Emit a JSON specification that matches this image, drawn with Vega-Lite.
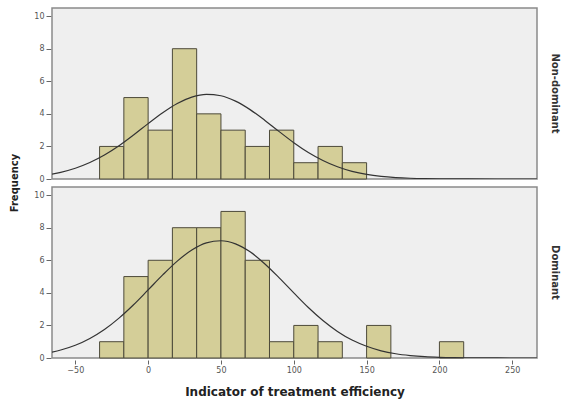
{
  "$schema": "https://vega.github.io/schema/vega-lite/v6.json",
  "background": "white",
  "padding": {"left": 9, "top": 7, "right": 2, "bottom": 2},
  "config": {
    "view": {"fill": "#EFEFEF", "stroke": "#8A8A8A", "strokeWidth": 1.5},
    "font": "DejaVu Sans",
    "axis": {"labelFont": "DejaVu Sans", "labelFontSize": 8, "labelColor": "#555", "tickColor": "#666", "domain": false, "grid": false, "titleFont": "DejaVu Sans", "titleColor": "#222"},
    "axisY": {"labelOverlap": false},
    "header": {"labelFont": "DejaVu Sans", "titleFont": "DejaVu Sans"}
  },
  "data": {
    "values": [
      {"g": "Non-dominant", "kind": "bar", "x0": -33.33, "x1": -16.67, "n": 2},
      {"g": "Non-dominant", "kind": "bar", "x0": -16.67, "x1": 0, "n": 5},
      {"g": "Non-dominant", "kind": "bar", "x0": 0, "x1": 16.67, "n": 3},
      {"g": "Non-dominant", "kind": "bar", "x0": 16.67, "x1": 33.33, "n": 8},
      {"g": "Non-dominant", "kind": "bar", "x0": 33.33, "x1": 50, "n": 4},
      {"g": "Non-dominant", "kind": "bar", "x0": 50, "x1": 66.67, "n": 3},
      {"g": "Non-dominant", "kind": "bar", "x0": 66.67, "x1": 83.33, "n": 2},
      {"g": "Non-dominant", "kind": "bar", "x0": 83.33, "x1": 100, "n": 3},
      {"g": "Non-dominant", "kind": "bar", "x0": 100, "x1": 116.67, "n": 1},
      {"g": "Non-dominant", "kind": "bar", "x0": 116.67, "x1": 133.33, "n": 2},
      {"g": "Non-dominant", "kind": "bar", "x0": 133.33, "x1": 150, "n": 1},
      {"g": "Dominant", "kind": "bar", "x0": -33.33, "x1": -16.67, "n": 1},
      {"g": "Dominant", "kind": "bar", "x0": -16.67, "x1": 0, "n": 5},
      {"g": "Dominant", "kind": "bar", "x0": 0, "x1": 16.67, "n": 6},
      {"g": "Dominant", "kind": "bar", "x0": 16.67, "x1": 33.33, "n": 8},
      {"g": "Dominant", "kind": "bar", "x0": 33.33, "x1": 50, "n": 8},
      {"g": "Dominant", "kind": "bar", "x0": 50, "x1": 66.67, "n": 9},
      {"g": "Dominant", "kind": "bar", "x0": 66.67, "x1": 83.33, "n": 6},
      {"g": "Dominant", "kind": "bar", "x0": 83.33, "x1": 100, "n": 1},
      {"g": "Dominant", "kind": "bar", "x0": 100, "x1": 116.67, "n": 2},
      {"g": "Dominant", "kind": "bar", "x0": 116.67, "x1": 133.33, "n": 1},
      {"g": "Dominant", "kind": "bar", "x0": 150, "x1": 166.67, "n": 2},
      {"g": "Dominant", "kind": "bar", "x0": 200, "x1": 216.67, "n": 1},
      {"g": "Non-dominant", "kind": "curve", "x0": -66, "n": 0.30},
      {"g": "Non-dominant", "kind": "curve", "x0": -60, "n": 0.41},
      {"g": "Non-dominant", "kind": "curve", "x0": -50, "n": 0.66},
      {"g": "Non-dominant", "kind": "curve", "x0": -40, "n": 1.01},
      {"g": "Non-dominant", "kind": "curve", "x0": -30, "n": 1.47},
      {"g": "Non-dominant", "kind": "curve", "x0": -20, "n": 2.04},
      {"g": "Non-dominant", "kind": "curve", "x0": -10, "n": 2.70},
      {"g": "Non-dominant", "kind": "curve", "x0": 0, "n": 3.40},
      {"g": "Non-dominant", "kind": "curve", "x0": 10, "n": 4.07},
      {"g": "Non-dominant", "kind": "curve", "x0": 20, "n": 4.64},
      {"g": "Non-dominant", "kind": "curve", "x0": 30, "n": 5.03},
      {"g": "Non-dominant", "kind": "curve", "x0": 40, "n": 5.20},
      {"g": "Non-dominant", "kind": "curve", "x0": 50, "n": 5.11},
      {"g": "Non-dominant", "kind": "curve", "x0": 60, "n": 4.78},
      {"g": "Non-dominant", "kind": "curve", "x0": 70, "n": 4.26},
      {"g": "Non-dominant", "kind": "curve", "x0": 80, "n": 3.61},
      {"g": "Non-dominant", "kind": "curve", "x0": 90, "n": 2.91},
      {"g": "Non-dominant", "kind": "curve", "x0": 100, "n": 2.23},
      {"g": "Non-dominant", "kind": "curve", "x0": 110, "n": 1.63},
      {"g": "Non-dominant", "kind": "curve", "x0": 120, "n": 1.14},
      {"g": "Non-dominant", "kind": "curve", "x0": 130, "n": 0.75},
      {"g": "Non-dominant", "kind": "curve", "x0": 140, "n": 0.47},
      {"g": "Non-dominant", "kind": "curve", "x0": 150, "n": 0.28},
      {"g": "Non-dominant", "kind": "curve", "x0": 160, "n": 0.16},
      {"g": "Non-dominant", "kind": "curve", "x0": 170, "n": 0.088},
      {"g": "Non-dominant", "kind": "curve", "x0": 180, "n": 0.046},
      {"g": "Non-dominant", "kind": "curve", "x0": 190, "n": 0.022},
      {"g": "Non-dominant", "kind": "curve", "x0": 200, "n": 0.011},
      {"g": "Non-dominant", "kind": "curve", "x0": 210, "n": 0.005},
      {"g": "Non-dominant", "kind": "curve", "x0": 220, "n": 0.002},
      {"g": "Non-dominant", "kind": "curve", "x0": 240, "n": 0.0003},
      {"g": "Non-dominant", "kind": "curve", "x0": 267, "n": 0},
      {"g": "Dominant", "kind": "curve", "x0": -66, "n": 0.36},
      {"g": "Dominant", "kind": "curve", "x0": -60, "n": 0.49},
      {"g": "Dominant", "kind": "curve", "x0": -50, "n": 0.78},
      {"g": "Dominant", "kind": "curve", "x0": -40, "n": 1.20},
      {"g": "Dominant", "kind": "curve", "x0": -30, "n": 1.75},
      {"g": "Dominant", "kind": "curve", "x0": -20, "n": 2.45},
      {"g": "Dominant", "kind": "curve", "x0": -10, "n": 3.27},
      {"g": "Dominant", "kind": "curve", "x0": 0, "n": 4.18},
      {"g": "Dominant", "kind": "curve", "x0": 10, "n": 5.10},
      {"g": "Dominant", "kind": "curve", "x0": 20, "n": 5.95},
      {"g": "Dominant", "kind": "curve", "x0": 30, "n": 6.63},
      {"g": "Dominant", "kind": "curve", "x0": 40, "n": 7.07},
      {"g": "Dominant", "kind": "curve", "x0": 50, "n": 7.20},
      {"g": "Dominant", "kind": "curve", "x0": 60, "n": 7.01},
      {"g": "Dominant", "kind": "curve", "x0": 70, "n": 6.52},
      {"g": "Dominant", "kind": "curve", "x0": 80, "n": 5.79},
      {"g": "Dominant", "kind": "curve", "x0": 90, "n": 4.92},
      {"g": "Dominant", "kind": "curve", "x0": 100, "n": 4.00},
      {"g": "Dominant", "kind": "curve", "x0": 110, "n": 3.10},
      {"g": "Dominant", "kind": "curve", "x0": 120, "n": 2.30},
      {"g": "Dominant", "kind": "curve", "x0": 130, "n": 1.63},
      {"g": "Dominant", "kind": "curve", "x0": 140, "n": 1.10},
      {"g": "Dominant", "kind": "curve", "x0": 150, "n": 0.72},
      {"g": "Dominant", "kind": "curve", "x0": 160, "n": 0.44},
      {"g": "Dominant", "kind": "curve", "x0": 170, "n": 0.26},
      {"g": "Dominant", "kind": "curve", "x0": 180, "n": 0.15},
      {"g": "Dominant", "kind": "curve", "x0": 190, "n": 0.080},
      {"g": "Dominant", "kind": "curve", "x0": 200, "n": 0.041},
      {"g": "Dominant", "kind": "curve", "x0": 210, "n": 0.020},
      {"g": "Dominant", "kind": "curve", "x0": 220, "n": 0.010},
      {"g": "Dominant", "kind": "curve", "x0": 230, "n": 0.004},
      {"g": "Dominant", "kind": "curve", "x0": 240, "n": 0.002},
      {"g": "Dominant", "kind": "curve", "x0": 267, "n": 0}
    ]
  },
  "facet": {
    "row": {
      "field": "g",
      "type": "nominal",
      "sort": ["Non-dominant", "Dominant"],
      "header": {"title": "Frequency", "titleOrient": "left", "titleAngle": -90, "titleFontSize": 10, "titleFontWeight": "bold", "titleColor": "#222", "titlePadding": -7,
                 "labelOrient": "right", "labelAngle": 90, "labelFontSize": 10, "labelFontWeight": "bold", "labelColor": "#333", "labelPadding": 12}
    }
  },
  "spacing": 5,
  "spec": {
    "width": 485,
    "height": 171,
    "encoding": {
      "x": {"field": "x0", "type": "quantitative", "scale": {"domain": [-66, 267], "nice": false, "zero": false},
            "axis": {"values": [-50, 0, 50, 100, 150, 200, 250], "title": "Indicator of treatment efficiency", "titleFontSize": 12, "titleFontWeight": "bold", "titlePadding": 12, "tickSize": 4, "labelPadding": 2}},
      "y": {"field": "n", "type": "quantitative", "scale": {"domain": [0, 10.5], "nice": false},
            "axis": {"values": [0, 2, 4, 6, 8, 10], "tickCount": 6, "title": null, "labelOverlap": false, "tickSize": 5, "labelPadding": 2}}
    },
    "layer": [
      {
        "transform": [{"filter": "datum.kind === 'bar'"}],
        "mark": {"type": "rect", "fill": "#D4CE98", "stroke": "#4D4A3A", "strokeWidth": 1},
        "encoding": {
          "x2": {"field": "x1"},
          "y2": {"datum": 0}
        }
      },
      {
        "transform": [{"filter": "datum.kind === 'curve'"}],
        "mark": {"type": "line", "color": "#333333", "strokeWidth": 1.2, "interpolate": "monotone", "clip": true},
        "encoding": {}
      }
    ]
  }
}
